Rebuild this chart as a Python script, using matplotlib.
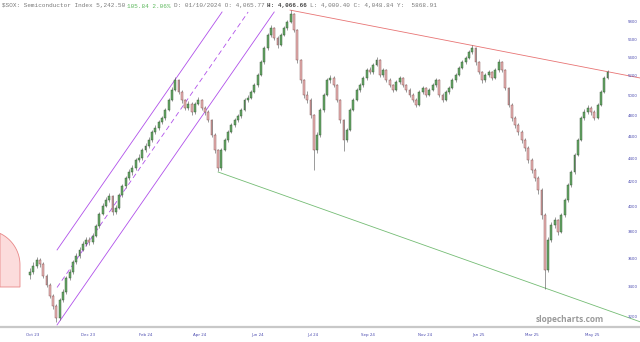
import matplotlib
matplotlib.use('Agg')
import matplotlib.pyplot as plt
import numpy as np
from matplotlib.patches import Polygon
from matplotlib.ticker import FixedLocator, NullLocator, NullFormatter

# half-week candles, $SOX Sep 2023 - May 2025
first_open = 3480
closes = [3502, 3545, 3588, 3560, 3474, 3412, 3337, 3270, 3192, 3310,
          3364, 3460, 3502, 3574, 3617, 3661, 3705, 3735, 3720, 3766,
          3842, 3937, 4001, 4049, 4082, 3952, 3985, 4090, 4165, 4232,
          4284, 4319, 4389, 4407, 4478, 4515, 4570, 4644, 4682, 4739,
          4777, 4854, 4953, 5054, 5157, 5034, 4953, 4874, 4914, 4835,
          4914, 4953, 4874, 4835, 4758, 4617, 4478, 4319, 4478, 4570,
          4644, 4710, 4758, 4796, 4854, 4953, 4974, 5034, 5105, 5209,
          5348, 5501, 5647, 5727, 5613, 5534, 5647, 5727, 5798, 5890,
          5704, 5369, 5157, 5004, 4953, 4806, 4478, 4617, 4854, 5004,
          5157, 5178, 5105, 4953, 4758, 4570, 4663, 4854, 4953, 5054,
          5105, 5178, 5262, 5241, 5316, 5369, 5209, 5262, 5157, 5105,
          5054, 5136, 5178, 5105, 5054, 5004, 4953, 4904, 5034, 5074,
          5004, 5054, 5105, 5157, 5004, 4953, 5034, 5074, 5157, 5209,
          5284, 5348, 5391, 5457, 5501, 5348, 5241, 5157, 5209, 5241,
          5178, 5262, 5348, 5262, 5074, 4904, 4777, 4710, 4644, 4570,
          4497, 4389, 4301, 4232, 4131, 3929, 3516, 3735, 3850, 3889,
          3796, 3929, 4049, 4173, 4284, 4434, 4570, 4777, 4835, 4874,
          4835, 4777, 4904, 5034, 5178, 5242]
highs = [3530, 3570, 3610, 3605, 3570, 3490, 3425, 3350, 3285, 3325,
         3385, 3475, 3525, 3590, 3635, 3680, 3725, 3760, 3755, 3785,
         3860, 3955, 4025, 4070, 4105, 4090, 4010, 4105, 4185, 4250,
         4310, 4345, 4410, 4440, 4495, 4540, 4595, 4665, 4710, 4760,
         4800, 4875, 4975, 5080, 5185, 5170, 5050, 4965, 4940, 4930,
         4935, 4980, 4965, 4890, 4850, 4770, 4630, 4490, 4495, 4590,
         4665, 4730, 4780, 4820, 4875, 4970, 5000, 5055, 5125, 5230,
         5370, 5525, 5670, 5760, 5740, 5630, 5665, 5745, 5820, 5935,
         5900, 5715, 5385, 5170, 5040, 4970, 4815, 4640, 4870, 5025,
         5175, 5205, 5195, 5115, 4965, 4770, 4685, 4870, 4975, 5075,
         5130, 5200, 5285, 5290, 5340, 5400, 5380, 5285, 5275, 5180,
         5120, 5155, 5200, 5190, 5120, 5070, 5020, 4970, 5050, 5100,
         5090, 5075, 5125, 5180, 5170, 5020, 5055, 5095, 5175, 5230,
         5305, 5370, 5415, 5480, 5530, 5510, 5360, 5255, 5230, 5265,
         5255, 5285, 5375, 5360, 5275, 5085, 4920, 4795, 4725, 4660,
         4590, 4510, 4405, 4320, 4250, 4145, 3945, 3760, 3870, 3910,
         3900, 3945, 4065, 4190, 4300, 4450, 4590, 4795, 4860, 4900,
         4890, 4850, 4920, 5050, 5195, 5262]
lows = [3455, 3490, 3530, 3540, 3460, 3395, 3320, 3250, 3165, 3180,
        3295, 3350, 3445, 3490, 3560, 3600, 3650, 3690, 3700, 3705,
        3755, 3830, 3925, 3990, 4035, 3925, 3935, 3975, 4075, 4150,
        4215, 4260, 4300, 4370, 4390, 4460, 4500, 4555, 4625, 4665,
        4720, 4760, 4840, 4940, 5040, 5010, 4925, 4850, 4855, 4810,
        4820, 4900, 4855, 4810, 4740, 4595, 4455, 4290, 4305, 4465,
        4555, 4630, 4695, 4740, 4780, 4840, 4935, 4960, 5020, 5090,
        5195, 5330, 5480, 5625, 5590, 5505, 5520, 5630, 5710, 5780,
        5680, 5340, 5130, 4975, 4920, 4780, 4300, 4455, 4600, 4835,
        4990, 5130, 5080, 4930, 4730, 4470, 4550, 4650, 4840, 4940,
        5035, 5090, 5160, 5215, 5225, 5300, 5185, 5190, 5135, 5080,
        5030, 5040, 5120, 5085, 5030, 4980, 4930, 4880, 4890, 5015,
        4985, 4990, 5040, 5090, 4980, 4930, 4940, 5015, 5060, 5140,
        5195, 5270, 5330, 5375, 5440, 5320, 5215, 5130, 5140, 5190,
        5155, 5165, 5245, 5240, 5050, 4880, 4750, 4685, 4620, 4545,
        4470, 4365, 4275, 4205, 4100, 3900, 3385, 3500, 3720, 3830,
        3770, 3785, 3915, 4035, 4160, 4270, 4420, 4560, 4760, 4815,
        4810, 4755, 4765, 4890, 5020, 5165]
opens = [first_open] + closes[:-1]

tick_labels = ['Oct 23', 'Dec 23', 'Feb 24', 'Apr 24', 'Jun 24', 'Jul 24',
               'Sep 24', 'Nov 24', 'Jan 25', 'Mar 25', 'May 25']
tick_idx = [0.9, 17.6, 35.2, 51.5, 68.8, 85.8, 102.4, 119.7, 135.8, 152.1, 170.3]
price_ticks = list(range(3200, 5801, 200))

# trendlines (candle index, price)
channel_low = ([8.2, 74.0], [3147, 5915])
channel_mid = ([8.2, 66.1], [3394, 5915])
channel_high = ([8.2, 58.2], [3661, 5915])
red_line = ([78.8, 184.9], [5938, 5178])
green_line = ([57.0, 184.9], [4284, 3167])

W, H = 640, 342
fig = plt.figure(figsize=(W / 100, H / 100), dpi=100)
ax = fig.add_axes([0, 1 - 327 / H, 1, 327 / H])
ax.set_yscale('log')

x = np.arange(len(closes))
o = np.array(opens, dtype=float)
c = np.array(closes, dtype=float)
up = c >= o

ax.vlines(x, lows, highs, color='#505050', linewidth=0.4, zorder=2)
lo_b = np.minimum(o, c)
hi_b = np.maximum(o, c)
ax.bar(x[up], hi_b[up] - lo_b[up], bottom=lo_b[up], width=0.55,
       color='#68aa68', edgecolor='#2e4e2e', linewidth=0.3, zorder=3)
ax.bar(x[~up], hi_b[~up] - lo_b[~up], bottom=lo_b[~up], width=0.55,
       color='#eab4b4', edgecolor='#7a4848', linewidth=0.3, zorder=3)

ax.plot(*channel_low, color='#b050ea', linewidth=0.6, zorder=1)
ax.plot(*channel_high, color='#b050ea', linewidth=0.6, zorder=1)
ax.plot(*channel_mid, color='#b050ea', linewidth=0.6, linestyle=(0, (6, 4)), zorder=1)
ax.plot(*red_line, color='#e87474', linewidth=0.6, zorder=1)
ax.plot(*green_line, color='#74bc74', linewidth=0.6, zorder=1)

ax.set_xlim(-30 / 3.3, 610 / 3.3)
ax.set_ylim(3134, 6060)

ax.yaxis.tick_right()
ax.yaxis.set_major_locator(FixedLocator(price_ticks))
ax.yaxis.set_minor_locator(NullLocator())
ax.yaxis.set_minor_formatter(NullFormatter())
ax.set_yticklabels([str(p) for p in price_ticks])
ax.tick_params(axis='y', length=0, pad=-8.6, labelsize=2.8, labelcolor='#4b4bb0')
ax.set_xticks(tick_idx)
ax.set_xticklabels(tick_labels)
ax.tick_params(axis='x', length=0, pad=4.0, labelsize=2.9, labelcolor='#4b4bb0')

for s in ['top', 'left', 'right']:
    ax.spines[s].set_visible(False)
ax.spines['bottom'].set_color('#c8c8c8')
ax.spines['bottom'].set_linewidth(1.6)

# header line
segments = [("$SOX: Semiconductor Index 5,242.50 ", '#7a7a7a', 'normal'),
            ("105.84 2.06% ", '#5cb85c', 'normal'),
            ("D: 01/10/2024 O: 4,065.77 ", '#7a7a7a', 'normal'),
            ("H: 4,066.66 ", '#444444', 'bold'),
            ("L: 4,000.40 C: 4,048.84 Y:  5868.91", '#7a7a7a', 'normal')]
fs = 4.3
cw = fs * 100 / 72 * 0.6
xpos = 2
for txt, col, wt in segments:
    fig.text(xpos / W, 1 - 6 / H, txt, fontsize=fs, family='Liberation Mono',
             color=col, weight=wt, va='center', ha='left')
    xpos += len(txt) * cw

fig.text(570 / W, 1 - 320 / H, 'slopecharts.com', fontsize=6, family='Open Sans',
         weight='bold', color='#9a9a9a', ha='center', va='center')

# red half-gauge on the left edge
th = np.linspace(np.arccos(15 / 35), 0, 30)
px = -15 + 35 * np.cos(th)
py = 265 - 35 * np.sin(th)
pts = list(zip(px, py)) + [(20, 287), (0, 287)]
pts = [(a / W, 1 - b / H) for a, b in pts]
fig.add_artist(Polygon(pts, closed=True, transform=fig.transFigure,
                       facecolor='#fcdcdc', edgecolor='#e88888', linewidth=0.6))

fig.savefig('out.png', dpi=100)
